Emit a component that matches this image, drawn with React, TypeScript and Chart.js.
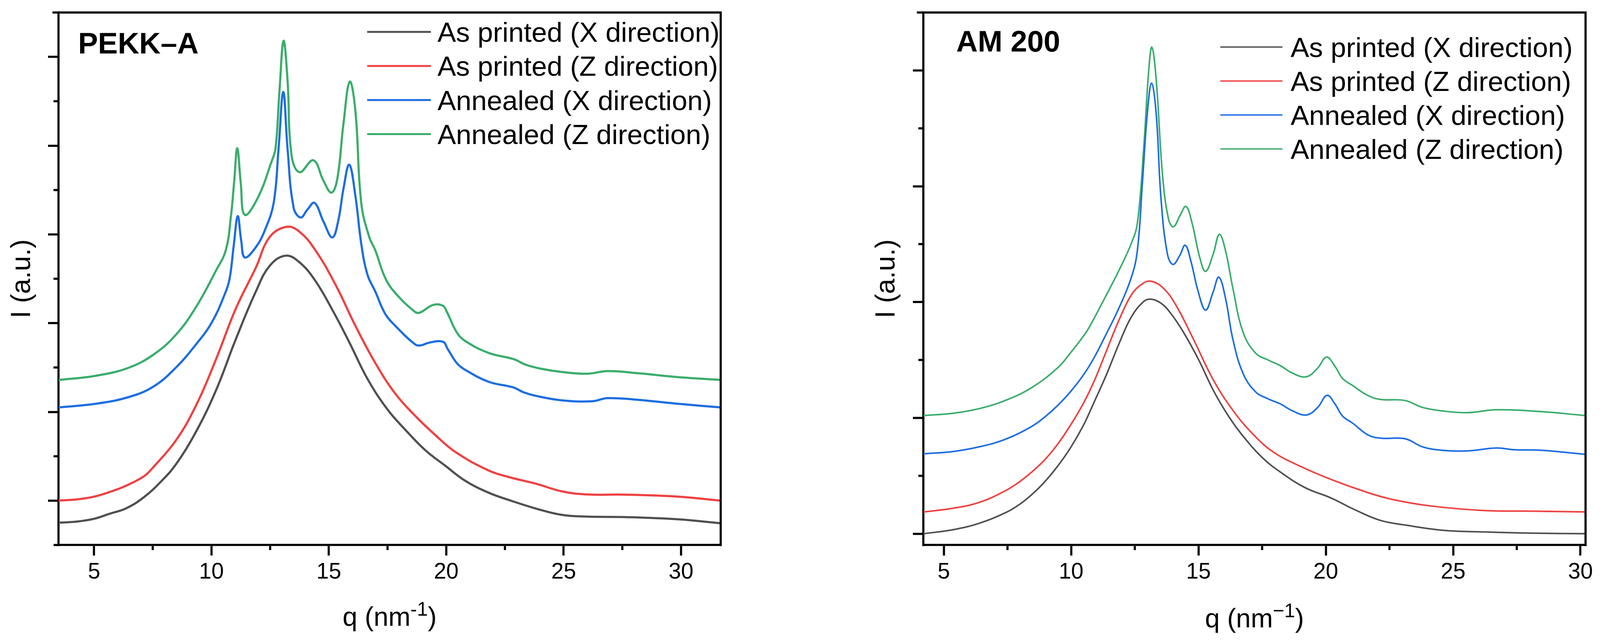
import React, { useEffect, useRef } from 'react';
import { Chart, registerables } from 'chart.js';

Chart.register(...registerables);

const FONT = "'Liberation Sans', Arial, Helvetica, sans-serif";

// ---------- shared series meta ----------
const SERIES_LABELS = [
  'As printed (X direction)',
  'As printed (Z direction)',
  'Annealed (X direction)',
  'Annealed (Z direction)',
];
const SERIES_COLORS = ['#505050', '#EF4141', '#1C6DE3', '#3AAD6B'];

// ---------- PEKK–A panel (left) ----------
const PEKK_X_TICKS = [5, 10, 15, 20, 25, 30];
const PEKK_X_MINOR = [7.5, 12.5, 17.5, 22.5, 27.5];
const PEKK_Y_MAJOR = [1, 3, 5, 7, 9, 11];
const PEKK_Y_MINOR = [2, 4, 6, 8, 10];

const pekkQ_AsX = [3.49, 4.3, 5.0, 5.64, 6.38, 7.13, 7.87, 8.49, 9.34, 10.19, 11.04, 11.89, 12.48, 13.16, 13.75, 14.43, 15.2, 15.88, 16.64, 17.49, 18.25, 19.1, 19.95, 20.8, 21.8, 22.75, 23.83, 24.92, 26.0, 27.62, 29.85, 31.69];
const pekkI_AsX = [0.50, 0.53, 0.59, 0.70, 0.83, 1.08, 1.44, 1.82, 2.55, 3.48, 4.64, 5.71, 6.29, 6.52, 6.37, 5.95, 5.25, 4.56, 3.75, 3.06, 2.60, 2.14, 1.79, 1.45, 1.18, 1.00, 0.82, 0.68, 0.64, 0.63, 0.58, 0.49];

const pekkQ_AsZ = [3.49, 4.3, 5.0, 5.64, 6.38, 7.13, 7.5, 8.49, 9.34, 10.19, 11.04, 11.89, 12.48, 13.2, 13.75, 14.43, 15.28, 16.13, 16.98, 17.83, 18.68, 19.53, 20.38, 21.8, 22.75, 23.83, 24.92, 26.0, 27.62, 29.85, 31.69];
const pekkI_AsZ = [1.00, 1.03, 1.09, 1.19, 1.34, 1.55, 1.74, 2.36, 3.14, 4.18, 5.33, 6.25, 6.94, 7.17, 7.06, 6.64, 5.87, 4.94, 4.10, 3.41, 2.91, 2.48, 2.10, 1.68, 1.52, 1.38, 1.21, 1.14, 1.135, 1.09, 1.00];

const pekkQ_AnX = [3.49, 5.03, 6.45, 7.53, 8.49, 9.34, 10.02, 10.61, 10.78, 10.95, 11.12, 11.27, 11.42, 11.89, 12.28, 12.65, 12.86, 13.06, 13.24, 13.5, 13.8, 14.09, 14.39, 14.77, 15.15, 15.41, 15.62, 15.87, 16.13, 16.38, 16.64, 16.98, 17.4, 17.83, 18.68, 18.93, 19.27, 19.86, 20.07, 20.45, 20.8, 21.8, 22.86, 23.3, 23.83, 24.92, 26.23, 26.87, 28.19, 29.93, 31.69];
const pekkI_AnX = [3.10, 3.18, 3.33, 3.57, 4.00, 4.52, 5.02, 5.71, 6.02, 6.75, 7.41, 6.85, 6.48, 6.71, 7.10, 7.71, 8.94, 10.21, 8.94, 7.60, 7.38, 7.56, 7.71, 7.29, 6.93, 7.33, 8.02, 8.57, 7.87, 6.79, 6.10, 5.71, 5.21, 4.94, 4.52, 4.50, 4.56, 4.58, 4.41, 4.10, 3.95, 3.68, 3.55, 3.44, 3.36, 3.26, 3.24, 3.31, 3.27, 3.18, 3.10];

const pekkQ_AnZ = [3.49, 5.03, 6.45, 7.53, 8.49, 9.34, 10.19, 10.61, 10.83, 10.97, 11.1, 11.25, 11.42, 11.98, 12.56, 12.73, 12.9, 13.07, 13.24, 13.41, 13.75, 14.34, 14.77, 15.11, 15.36, 15.62, 15.89, 16.13, 16.38, 16.72, 16.98, 17.4, 17.83, 18.68, 18.89, 19.44, 19.86, 20.03, 20.45, 20.8, 21.8, 22.86, 23.4, 24.06, 24.92, 26.0, 26.87, 28.19, 29.93, 31.69];
const pekkI_AnZ = [3.72, 3.81, 3.99, 4.29, 4.74, 5.36, 6.18, 6.64, 7.41, 8.20, 8.94, 8.15, 7.44, 7.83, 8.64, 8.94, 10.25, 11.36, 10.48, 8.79, 8.40, 8.67, 8.21, 7.94, 8.25, 9.48, 10.44, 9.79, 7.71, 6.94, 6.64, 6.02, 5.68, 5.25, 5.24, 5.41, 5.39, 5.25, 4.79, 4.60, 4.33, 4.19, 4.06, 3.97, 3.90, 3.86, 3.92, 3.87, 3.78, 3.72];

// ---------- AM 200 panel (right) ----------
const AM_X_TICKS = [5, 10, 15, 20, 25, 30];
const AM_X_MINOR = [7.5, 12.5, 17.5, 22.5, 27.5];
const AM_Y_MAJOR = [0, 2, 4, 6, 8];
const AM_Y_MINOR = [1, 3, 5, 7];

const amQ_AsX = [4.2, 5.37, 6.39, 7.41, 7.92, 8.44, 8.95, 9.46, 9.97, 10.48, 10.89, 11.38, 11.87, 12.36, 12.85, 13.13, 13.53, 13.92, 14.41, 15.0, 15.59, 16.18, 16.76, 17.54, 18.33, 19.21, 20.19, 21.16, 22.14, 23.12, 24.59, 26.23, 28.0, 30.2];
const amI_AsX = [0.0, 0.07, 0.18, 0.36, 0.49, 0.67, 0.89, 1.16, 1.48, 1.87, 2.26, 2.74, 3.27, 3.74, 4.01, 4.05, 3.98, 3.80, 3.48, 3.01, 2.47, 2.03, 1.68, 1.30, 1.03, 0.79, 0.62, 0.41, 0.23, 0.15, 0.06, 0.03, 0.01, 0.0];

const amQ_AsZ = [4.2, 5.37, 6.39, 7.41, 7.92, 8.44, 8.95, 9.46, 9.97, 10.48, 10.89, 11.38, 11.87, 12.36, 12.75, 13.12, 13.62, 14.11, 14.8, 15.59, 16.37, 17.16, 17.94, 18.92, 20.19, 21.65, 22.63, 24.1, 26.23, 28.0, 30.2];
const amI_AsZ = [0.375, 0.44, 0.54, 0.74, 0.88, 1.06, 1.27, 1.54, 1.87, 2.25, 2.62, 3.15, 3.68, 4.12, 4.30, 4.36, 4.24, 3.95, 3.36, 2.65, 2.12, 1.71, 1.41, 1.18, 0.94, 0.71, 0.59, 0.48, 0.40, 0.39, 0.376];

const amQ_AnX = [4.2, 5.37, 6.39, 7.41, 8.44, 8.95, 9.46, 9.97, 10.48, 10.89, 11.38, 11.87, 12.36, 12.6, 12.8, 12.99, 13.16, 13.34, 13.53, 13.78, 14.0, 14.26, 14.48, 14.7, 14.99, 15.28, 15.58, 15.8, 16.06, 16.35, 16.75, 17.24, 17.73, 18.22, 18.7, 19.24, 19.68, 20.05, 20.36, 20.66, 21.05, 21.64, 22.13, 23.11, 23.8, 24.58, 25.56, 26.7, 27.4, 28.5, 30.2];
const amI_AnX = [1.38, 1.42, 1.50, 1.63, 1.85, 2.01, 2.21, 2.45, 2.74, 3.03, 3.45, 3.89, 4.42, 4.89, 6.07, 7.25, 7.78, 7.25, 5.78, 4.83, 4.65, 4.80, 4.98, 4.71, 4.18, 3.86, 4.18, 4.43, 4.07, 3.36, 2.77, 2.45, 2.33, 2.24, 2.12, 2.05, 2.18, 2.39, 2.24, 2.03, 1.91, 1.71, 1.65, 1.64, 1.50, 1.44, 1.43, 1.48, 1.45, 1.44, 1.37];

const amQ_AnZ = [4.2, 5.37, 6.39, 7.41, 8.44, 9.46, 9.97, 10.59, 10.89, 11.38, 11.87, 12.36, 12.6, 12.85, 13.04, 13.17, 13.34, 13.59, 13.83, 14.02, 14.26, 14.51, 14.75, 15.05, 15.28, 15.58, 15.82, 16.06, 16.35, 16.75, 17.24, 17.73, 18.22, 18.7, 19.24, 19.68, 20.03, 20.36, 20.66, 21.05, 21.64, 22.13, 23.11, 23.8, 24.58, 25.56, 26.7, 28.4, 30.2];
const amI_AnZ = [2.04, 2.08, 2.16, 2.30, 2.52, 2.86, 3.12, 3.48, 3.71, 4.12, 4.54, 5.01, 5.36, 6.66, 7.96, 8.40, 7.84, 6.19, 5.42, 5.30, 5.48, 5.65, 5.36, 4.77, 4.53, 4.83, 5.17, 4.89, 4.24, 3.48, 3.12, 3.00, 2.90, 2.77, 2.71, 2.86, 3.05, 2.89, 2.68, 2.56, 2.39, 2.32, 2.30, 2.18, 2.12, 2.09, 2.14, 2.11, 2.04];

// ---------- panel configs (layout/style only) ----------
const PANELS: any[] = [
  {
    key: 'L', name: 'PEKK\u2013A',
    canvasLeft: 0, canvasW: 2050, canvasH: 1647,
    yAxisW: 150, padRight: 205, padTop: 32, xAxisH: 251,
    xMin: 3.49, xMax: 31.69, yMin: 0, yMax: 12,
    xTicks: PEKK_X_TICKS, xMinor: PEKK_X_MINOR, yMajor: PEKK_Y_MAJOR, yMinor: PEKK_Y_MINOR,
    series: [[pekkQ_AsX, pekkI_AsX], [pekkQ_AsZ, pekkI_AsZ], [pekkQ_AnX, pekkI_AnX], [pekkQ_AnZ, pekkI_AnZ]],
    lineW: 5.5,
    topExtend: 13, bottomExtend: 10,
    legend: { x0: 940, len: 163, textX: 1120, y0: 81.7, dy: 87.3, size: 71, lineW: 5 },
    nameX: 200, nameBase: 136.7,
    xTitle: { base: 1603, sup: '-1' },
    yTitleX: 58,
  },
  {
    key: 'R', name: 'AM 200',
    canvasLeft: 2050, canvasW: 2049, canvasH: 1647,
    yAxisW: 314, padRight: 40, padTop: 32, xAxisH: 251,
    xMin: 4.2, xMax: 30.2, yMin: -0.195, yMax: 9.0,
    xTicks: AM_X_TICKS, xMinor: AM_X_MINOR, yMajor: AM_Y_MAJOR, yMinor: AM_Y_MINOR,
    series: [[amQ_AsX, amI_AsX], [amQ_AsZ, amI_AsZ], [amQ_AnX, amI_AnX], [amQ_AnZ, amI_AnZ]],
    lineW: 4,
    topExtend: 14, bottomExtend: 0,
    legend: { x0: 1074, len: 159, textX: 1254, y0: 120.5, dy: 87, size: 71, lineW: 3.5 },
    nameX: 398, nameBase: 131.7,
    xTitle: { base: 1607, sup: '\u22121' },
    yTitleX: 221,
  },
];

const AXIS_W = 5.5;
const MAJOR_LEN = 27;
const MINOR_LEN = 13;

function makeDecor(p: any) {
  return {
    id: 'decor' + p.key,
    afterDraw(chart: any) {
      const { ctx, chartArea: ca, scales } = chart;
      const xs = scales.x;
      const ys = scales.y;
      const hw = AXIS_W / 2;
      ctx.save();
      ctx.strokeStyle = '#000';
      ctx.lineWidth = AXIS_W;
      ctx.lineCap = 'butt';
      ctx.lineJoin = 'miter';
      // top + right frame
      ctx.beginPath();
      ctx.moveTo(ca.left - hw - p.topExtend, ca.top);
      ctx.lineTo(ca.right, ca.top);
      ctx.lineTo(ca.right, ca.bottom + hw);
      ctx.stroke();
      ctx.beginPath();
      ctx.moveTo(ca.left - hw - p.bottomExtend, ca.bottom);
      ctx.lineTo(ca.left + hw, ca.bottom);
      ctx.stroke();
      // minor ticks
      ctx.beginPath();
      for (const v of p.xMinor) {
        const px = xs.getPixelForValue(v);
        ctx.moveTo(px, ca.bottom + hw);
        ctx.lineTo(px, ca.bottom + MINOR_LEN);
      }
      for (const v of p.yMinor) {
        const py = ys.getPixelForValue(v);
        ctx.moveTo(ca.left - hw, py);
        ctx.lineTo(ca.left - MINOR_LEN, py);
      }
      ctx.stroke();

      // legend
      const lg = p.legend;
      ctx.textAlign = 'left';
      ctx.textBaseline = 'alphabetic';
      ctx.font = `${lg.size}px ${FONT}`;
      chart.data.datasets.forEach((ds: any, i: number) => {
        const yy = lg.y0 + i * lg.dy;
        ctx.strokeStyle = ds.borderColor;
        ctx.lineWidth = lg.lineW;
        ctx.beginPath();
        ctx.moveTo(lg.x0, yy);
        ctx.lineTo(lg.x0 + lg.len, yy);
        ctx.stroke();
        ctx.fillStyle = '#000';
        ctx.fillText(ds.label, lg.textX, yy + lg.size * 0.358);
      });

      // panel name
      ctx.font = `bold 76px ${FONT}`;
      ctx.fillStyle = '#000';
      ctx.fillText(p.name, p.nameX, p.nameBase);

      // x title with superscript
      const size = 68, supSize = 50, rise = 26;
      const main = 'q (nm', tail = ')';
      ctx.font = `${size}px ${FONT}`;
      const w1 = ctx.measureText(main).width;
      const w3 = ctx.measureText(tail).width;
      ctx.font = `${supSize}px ${FONT}`;
      const w2 = ctx.measureText(p.xTitle.sup).width;
      let x = (ca.left + ca.right) / 2 - (w1 + w2 + w3) / 2;
      const b = p.xTitle.base;
      ctx.font = `${size}px ${FONT}`;
      ctx.fillText(main, x, b);
      x += w1;
      ctx.font = `${supSize}px ${FONT}`;
      ctx.fillText(p.xTitle.sup, x, b - rise);
      x += w2;
      ctx.font = `${size}px ${FONT}`;
      ctx.fillText(tail, x, b);

      // y title
      ctx.save();
      ctx.translate(p.yTitleX, (ca.top + ca.bottom) / 2);
      ctx.rotate(-Math.PI / 2);
      ctx.textAlign = 'center';
      ctx.textBaseline = 'middle';
      ctx.font = `70px ${FONT}`;
      ctx.fillText('I (a.u.)', 0, 0);
      ctx.restore();

      ctx.restore();
    },
  };
}

function buildChart(canvas: HTMLCanvasElement, p: any) {
  const datasets = p.series.map((s: number[][], i: number) => ({
    label: SERIES_LABELS[i],
    data: s[0].map((q: number, k: number) => ({ x: q, y: s[1][k] })),
    borderColor: SERIES_COLORS[i],
    backgroundColor: SERIES_COLORS[i],
    borderWidth: p.lineW,
    pointRadius: 0,
    pointHoverRadius: 0,
    tension: 0.4,
    borderJoinStyle: 'round',
    borderCapStyle: 'round',
    fill: false,
  }));
  return new Chart(canvas, {
    type: 'line',
    data: { datasets },
    options: {
      animation: false,
      responsive: false,
      devicePixelRatio: 1,
      events: [],
      layout: { padding: { left: 0, right: p.padRight, top: p.padTop, bottom: 0 } },
      plugins: { legend: { display: false }, tooltip: { enabled: false }, title: { display: false } },
      scales: {
        x: {
          type: 'linear',
          min: p.xMin,
          max: p.xMax,
          afterBuildTicks: (sc: any) => { sc.ticks = p.xTicks.map((v: number) => ({ value: v })); },
          afterFit: (sc: any) => { sc.height = p.xAxisH; },
          border: { display: true, width: AXIS_W, color: '#000' },
          grid: { display: true, drawOnChartArea: false, drawTicks: true, tickLength: MAJOR_LEN, tickWidth: AXIS_W, tickColor: '#000' },
          ticks: {
            color: '#000',
            font: { family: FONT, size: 57, lineHeight: 1.2 },
            padding: 9,
            maxRotation: 0,
            autoSkip: false,
            callback: (v: any) => String(v),
          },
        },
        y: {
          type: 'linear',
          min: p.yMin,
          max: p.yMax,
          afterBuildTicks: (sc: any) => { sc.ticks = p.yMajor.map((v: number) => ({ value: v })); },
          afterFit: (sc: any) => { sc.width = p.yAxisW; },
          border: { display: true, width: AXIS_W, color: '#000' },
          grid: { display: true, drawOnChartArea: false, drawTicks: true, tickLength: MAJOR_LEN, tickWidth: AXIS_W, tickColor: '#000' },
          ticks: { display: false },
        },
      },
    } as any,
    plugins: [makeDecor(p)],
  });
}

export default function App() {
  const leftRef = useRef<HTMLCanvasElement | null>(null);
  const rightRef = useRef<HTMLCanvasElement | null>(null);

  useEffect(() => {
    const charts: Chart[] = [];
    if (leftRef.current) charts.push(buildChart(leftRef.current, PANELS[0]));
    if (rightRef.current) charts.push(buildChart(rightRef.current, PANELS[1]));
    return () => { charts.forEach((c) => c.destroy()); };
  }, []);

  return (
    <div style={{ position: 'absolute', left: 0, top: 0, width: 4099, height: 1647, background: '#fff', overflow: 'hidden' }}>
      <canvas
        ref={leftRef}
        width={PANELS[0].canvasW}
        height={PANELS[0].canvasH}
        style={{ position: 'absolute', left: PANELS[0].canvasLeft, top: 0, width: PANELS[0].canvasW, height: PANELS[0].canvasH }}
      />
      <canvas
        ref={rightRef}
        width={PANELS[1].canvasW}
        height={PANELS[1].canvasH}
        style={{ position: 'absolute', left: PANELS[1].canvasLeft, top: 0, width: PANELS[1].canvasW, height: PANELS[1].canvasH }}
      />
    </div>
  );
}
